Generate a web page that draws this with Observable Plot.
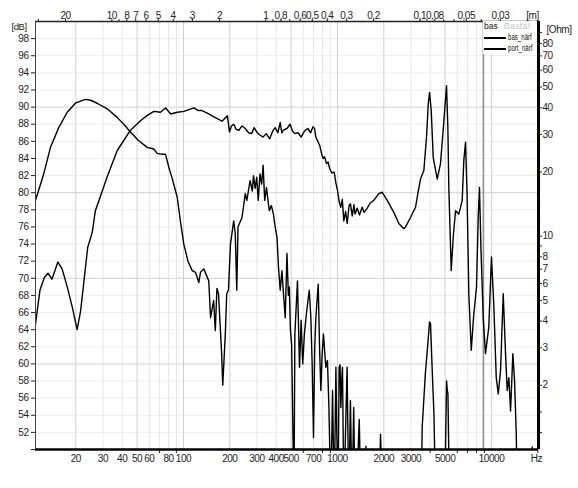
<!DOCTYPE html>
<html><head><meta charset="utf-8">
<script src="https://cdn.jsdelivr.net/npm/d3@7"></script>
<script src="https://cdn.jsdelivr.net/npm/@observablehq/plot@0.6"></script>
<style>
html,body{margin:0;padding:0;background:#fff;}
#wrap{position:relative;width:578px;height:488px;overflow:hidden;}
#wrap svg{position:absolute;left:0;top:0;}
#wrap svg text{letter-spacing:-0.45px;}
#legend{position:absolute;left:483px;top:21px;width:54px;height:33px;background:#fff;font-family:"Liberation Sans",Arial,sans-serif;color:#111;overflow:hidden;}
#legend .row{position:absolute;left:1px;white-space:nowrap;font-size:8.5px;line-height:10px;}
#legend .sw{position:absolute;left:0;top:5px;width:22px;height:0;border-top:2px solid #000;}
#legend .lab{position:absolute;left:24px;top:0;display:inline-block;transform:scaleX(0.72);transform-origin:left center;}
</style></head><body><div id="wrap"><div id="legend"></div></div>
<script>
// ---- data ----
const basResponse = [[10.9,64.4],[11.7,68.6],[12.5,70.1],[13.2,70.6],[14,69.9],[15.3,71.9],[16.3,71.1],[17.6,69.0],[19,66.6],[20.4,64.0],[21.5,66.2],[22.6,69.7],[23.9,73.6],[25.6,75.4],[26.8,77.9],[28.8,79.5],[31.9,81.8],[37.1,84.9],[45.3,87.3],[52.6,88.4],[58,89.0],[64.2,89.5],[70.9,89.4],[76.6,89.9],[82.7,89.2],[91.3,89.4],[100.6,89.5],[117,89.9],[125,89.6],[132,89.6],[146,89.2],[160,88.8],[178,88.35],[193,89.0],[199,87.1],[205,87.8],[212,88.0],[220,87.4],[229,87.3],[240,87.8],[252,87.5],[265,87.0],[277,86.9],[288,87.6],[299,87.1],[310,86.8],[329,86.5],[345,86.9],[363,86.3],[380,87.2],[394,87.6],[410,87.0],[425,88.2],[435,87.0],[446,87.3],[470,87.5],[493,88.0],[510,87.2],[529,86.9],[555,87.0],[581,86.5],[610,87.2],[643,87.5],[670,87.0],[693,87.7],[710,87.5],[724,86.5],[745,86.0],[768,85.5],[790,84.5],[807,84.0],[825,84.2],[849,83.4],[870,83.6],[890,82.8],[920,82.3],[953,82.4],[975,81.2],[1000,80.3],[1025,79.0],[1050,78.3],[1075,79.2],[1100,76.7],[1130,77.8],[1157,76.4],[1190,78.5],[1214,78.7],[1247,77.3],[1280,78.6],[1300,77.5],[1344,78.2],[1390,77.4],[1447,78.3],[1490,77.7],[1561,78.2],[1630,78.8],[1722,79.1],[1856,79.9],[1952,80.05],[2105,79.1],[2323,77.7],[2503,76.4],[2697,75.8],[2767,76.0],[2981,77.1],[3213,78.3],[3326,79.9],[3460,81.6],[3640,82.6],[3787,86.5],[3886,90.4],[3963,91.7],[4063,89.6],[4187,84.1],[4445,81.6],[4667,83.4],[4910,88.4],[5107,92.5],[5210,87.6],[5285,80.6],[5478,70.9],[5645,74.8],[5844,77.9],[6138,77.5],[6456,79.1],[6614,83.8],[6786,85.9],[6940,79.9],[7128,68.2],[7390,61.6],[7678,65.8],[7996,69.0],[8200,77.1],[8360,80.6],[8540,73.6],[8840,65.4],[9143,61.2],[9610,64.3],[10000,72.5],[10350,67.0],[10740,58.4],[11070,56.5],[11450,59.2],[11920,68.2],[12340,61.2],[12650,56.9],[12970,58.4],[13300,54.5],[13770,61.2],[14120,58.0],[14490,51.8],[14690,44],[18200,44],[18390,50.3],[18600,44],[20300,44]];
const portResponse = [[10.9,79.0],[12.3,82.0],[13.7,85.3],[15.5,87.6],[17.6,89.4],[20,90.5],[23.1,90.9],[25,90.8],[27.5,90.45],[32,89.8],[37.1,88.8],[41,88.0],[45.3,87.1],[51,86.1],[58.2,85.3],[64.2,85.1],[67.5,84.6],[72,84.5],[76.5,84.5],[80.3,83.0],[85,81.5],[91.1,79.5],[95,77.0],[100.5,74.0],[107,72.0],[114,70.9],[119.8,70.7],[125.8,69.5],[129,70.7],[135.6,71.1],[146,69.7],[150,65.4],[157,67.4],[161,63.9],[165,68.8],[169,68.2],[177,61.2],[180,57.5],[187,63.5],[191,68.2],[196,68.6],[202,74.0],[212,76.7],[217,75.2],[222,68.6],[226,76.0],[240,77.1],[252,79.9],[258,79.1],[271,81.4],[280,80.2],[285,82.0],[292,80.5],[299,81.8],[306,79.1],[314,82.2],[322,81.0],[329,83.2],[337,79.1],[346,80.6],[361,77.9],[372,78.5],[384,77.5],[394,76.0],[405,74.8],[414,71.3],[425,68.6],[436,70.9],[447,68],[458,65.4],[470,72.9],[480,68],[487,69.0],[495,64],[504,62.3],[522,44],[529,63.5],[550,69.7],[567,59.6],[581,65.1],[595,60],[610,63.5],[630,66],[656,68.6],[672,65.4],[685,60],[699,51.4],[712,62],[724,65.4],[750,69.3],[765,62],[780,56.9],[795,61],[811,63.5],[840,59.6],[861,60.4],[880,55],[906,44],[929,56.9],[953,44],[977,59.6],[990,52],[1009,44],[1025,59.6],[1040,59.9],[1052,54.9],[1065,58],[1078,59.6],[1100,44],[1155,59.6],[1184,44],[1214,55.7],[1244,44],[1275,54.9],[1300,44],[1350,48],[1385,53.5],[1420,44],[1510,44],[1530,50.4],[1550,44],[1860,44],[1904,51.8],[1950,44],[3500,44],[3549,52.6],[3720,58.8],[3860,62.3],[3960,64.9],[4020,64.7],[4125,59.2],[4230,54.2],[4340,44],[4980,44],[5030,50],[5110,58.0],[5160,57],[5215,56.5],[5340,44],[20300,44]];

const freqLabels = [20,30,40,50,60,80,100,200,300,400,500,700,1000,2000,3000,5000,10000];
const freqMinorTicks = [70,90,600,800,900,4000,6000,7000,8000,9000,20000];
const freqMajorGrid = [20,50,100,200,500,1000,2000,5000,10000,20000];
const freqMinorGrid = [30,40,60,70,80,90,300,400,600,700,800,900,3000,4000,6000,7000,8000,9000];
const dbTicks = [50,52,54,56,58,60,62,64,66,68,70,72,74,76,78,80,82,84,86,88,90,92,94,96,98];
const dbMajorGrid = [60,70,80,90];
const dbMinorGrid = [52,54,56,58,62,64,66,68,72,74,76,78,82,84,86,88,92,94,96,98];
const meterTicks = [30,20,10,9,8,7,6,5,4,3,2,1,0.9,0.8,0.7,0.6,0.5,0.4,0.3,0.2,0.1,0.09,0.08,0.07,0.06,0.05,0.04,0.03,0.02];
const meterLabels = [20,10,8,7,6,5,4,3,2,1,0.8,0.6,0.5,0.4,0.3,0.2,0.1,0.08,0.05,0.03];
const ohmTicks = [1.2,1.5,2,3,4,5,6,7,8,9,10,20,30,40,50,60,70,80,90];
const ohmLabels = [2,3,4,5,6,7,8,10,20,30,40,50,60,70,80];
const markerFreq = 8840;
const soundSpeed = 343;
const legendItems = ["bas_närf","port_närf"];

// ---- layout ----
const W = 578, H = 488, mL = 35, mR = 40, mT = 21, mB = 39;
const xDomain = [10.95, 20200];
const font = "'Liberation Sans', Arial, sans-serif";
const toObj = a => a.map(([f, db]) => ({f, db}));
const comma = d => String(d).replace(".", ",");

const main = Plot.plot({
  width: W, height: H, marginLeft: mL, marginRight: mR, marginTop: mT, marginBottom: mB,
  x: {type: "log", domain: xDomain},
  y: {domain: [50, 100]},
  style: {fontFamily: font, fontSize: "10px", color: "#222", background: "#fff", overflow: "visible"},
  marks: [
    Plot.gridX({ticks: freqMinorGrid, stroke: "#e6e6e6", strokeOpacity: 1}),
    Plot.gridY({ticks: dbMinorGrid, stroke: "#ececec", strokeOpacity: 1}),
    Plot.gridX({ticks: freqMajorGrid, stroke: "#cfcfcf", strokeOpacity: 1}),
    Plot.gridY({ticks: dbMajorGrid, stroke: "#d2d2d2", strokeOpacity: 1}),
    Plot.ruleX([markerFreq], {stroke: "#666", strokeWidth: 1}),
    Plot.line(toObj(portResponse), {x: "f", y: "db", stroke: "#000", strokeWidth: 1.4, clip: true}),
    Plot.line(toObj(basResponse), {x: "f", y: "db", stroke: "#000", strokeWidth: 1.4, clip: true}),
    Plot.axisY({ticks: dbTicks, tickSize: 4, tickPadding: 3, label: null, tickFormat: d => d === 50 ? "" : String(d)}),
    Plot.axisX({ticks: freqMinorTicks, tickSize: 4, tickPadding: 0, label: null, tickFormat: () => ""}),
    Plot.text(freqLabels, {x: d => d, frameAnchor: "bottom", dy: 12, text: d => String(d), fontSize: 10}),
    Plot.ruleX([xDomain[0]], {stroke: "#444", strokeWidth: 1}),
    Plot.ruleY([100], {stroke: "#222", strokeWidth: 1.5}),
    Plot.ruleY([50], {stroke: "#000", strokeWidth: 2.5}),
    Plot.ruleX([xDomain[1]], {stroke: "#000", strokeWidth: 3}),
    Plot.text(["[dB]"], {frameAnchor: "top-left", dx: -24, dy: 2, textAnchor: "start", fontSize: 9.5}),
    Plot.text(["Hz"], {frameAnchor: "bottom-right", dx: -2, dy: 12, textAnchor: "middle", fontSize: 10})
  ]
});

const over = Plot.plot({
  width: W, height: H, marginLeft: mL, marginRight: mR, marginTop: mT, marginBottom: mB,
  x: {type: "log", domain: [soundSpeed / xDomain[0], soundSpeed / xDomain[1]]},
  y: {type: "log", domain: [1, 101.5]},
  style: {fontFamily: font, fontSize: "10px", color: "#222", background: "transparent", overflow: "visible"},
  marks: [
    Plot.axisX({anchor: "top", ticks: meterTicks, tickSize: 3, tickPadding: 2, label: null, tickFormat: () => ""}),
    Plot.text(meterLabels, {x: d => d, frameAnchor: "top", dy: -10, text: comma, fontSize: 10}),
    Plot.axisY({anchor: "right", ticks: ohmTicks, tickSize: 3, tickPadding: 1, label: null, tickFormat: () => ""}),
    Plot.text(ohmLabels, {y: d => d, frameAnchor: "right", dx: 4, textAnchor: "start", text: d => String(d), fontSize: 10}),
    Plot.text(["[m]"], {frameAnchor: "top-right", dx: -6, dy: -10, textAnchor: "middle", fontSize: 10}),
    Plot.text(["[Ohm]"], {frameAnchor: "top-right", dx: 8, dy: 4, textAnchor: "start", fontSize: 10})
  ]
});

const wrap = document.getElementById("wrap");
const legend = document.getElementById("legend");
wrap.insertBefore(main, legend);
wrap.insertBefore(over, legend);
legend.innerHTML =
  `<div class="row" style="top:0px;"><span style="font-size:8.5px;">bas</span>` +
  `<span style="font-size:9px;color:#c4c4c4;margin-left:6px;letter-spacing:0.2px;">Basta!</span></div>` +
  legendItems.map((t, i) => `<div class="row" style="top:${11 + i * 11}px;width:54px;height:10px;"><span class="sw"></span><span class="lab">${t}</span></div>`).join("");
</script>
</body></html>
